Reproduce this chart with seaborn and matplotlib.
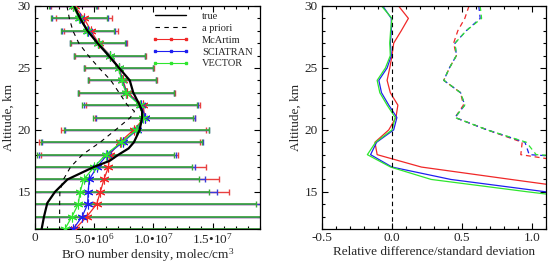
import numpy as np
import pandas as pd
import matplotlib
matplotlib.use("Agg")
import matplotlib.pyplot as plt
import seaborn as sns
from matplotlib.lines import Line2D
from matplotlib.ticker import FixedLocator, MultipleLocator

# ---------------- data ----------------
altitude = [30, 29, 28, 27, 26, 25, 24, 23, 22, 21, 20, 19, 18, 17, 16, 15, 14, 13, 12]

true_alt = [30, 29, 28, 27, 26, 25, 24, 23, 22, 21.5, 21, 20, 19, 18.5, 18, 17.5, 17, 16, 15, 14.1, 13, 12]
true_nd = [3.30e6, 3.81e6, 4.43e6, 5.28e6, 6.21e6, 7.10e6, 8.00e6, 8.30e6, 8.84e6, 9.05e6, 9.04e6,
           8.84e6, 8.35e6, 7.90e6, 7.05e6, 6.30e6, 4.95e6, 2.74e6, 1.69e6, 1.04e6, 0.76e6, 0.56e6]

apriori_alt = [30, 29, 28, 27, 26, 25, 24, 23, 22, 21.5, 21, 20, 19, 18, 17, 16, 15, 14, 13, 12]
apriori_nd = [2.70e6, 2.90e6, 3.20e6, 3.70e6, 4.50e6, 5.40e6, 6.40e6, 7.10e6, 7.80e6, 8.40e6, 8.05e6,
              6.80e6, 5.50e6, 4.00e6, 3.00e6, 2.40e6, 2.10e6, 2.08e6, 2.08e6, 2.08e6]

mcartim_nd = [3.35e6, 4.15e6, 4.72e6, 5.37e6, 6.36e6, 7.10e6, 7.43e6, 7.77e6, 9.13e6, 9.27e6,
              8.33e6, 7.15e6, 6.30e6, 6.20e6, 5.82e6, 5.52e6, 5.20e6, 4.38e6, 3.39e6]
sciatran_nd = [3.25e6, 3.80e6, 4.50e6, 5.32e6, 6.33e6, 7.08e6, 7.36e6, 7.72e6, 8.95e6, 9.32e6,
               8.62e6, 7.40e6, 6.10e6, 5.23e6, 4.58e6, 4.49e6, 4.44e6, 3.98e6, 3.22e6]
vector_nd = [3.19e6, 3.73e6, 4.43e6, 5.28e6, 6.30e6, 7.06e6, 7.31e6, 7.68e6, 8.84e6, 9.13e6,
             8.56e6, 7.29e6, 5.96e6, 5.00e6, 4.10e6, 3.81e6, 3.65e6, 3.12e6, 2.53e6]
retrieval_err = [2.0e6, 2.37e6, 2.25e6, 2.36e6, 3.0e6, 2.92e6, 2.87e6, 4.05e6, 4.83e6, 4.2e6,
                 6.1e6, 6.8e6, 5.8e6, 8.25e6, 9.75e6, 10.9e6, 15.0e6, 17.5e6, 20.0e6]

# relative difference (solid) and standard deviation (dashed), right panel
mcartim_rel = [0.047, 0.117, 0.066, 0.012, 0.0, -0.016, -0.035, -0.012, 0.042, 0.028,
               -0.023, -0.122, -0.106, 0.21, 0.85, 1.5]
sciatran_rel = [-0.066, -0.005, -0.005, -0.012, -0.005, -0.035, -0.094, -0.075, -0.023, 0.035,
                0.012, -0.11, -0.153, 0.0, 0.42, 1.1, 1.9]
vector_rel = [-0.075, 0.0, -0.01, -0.016, -0.012, -0.047, -0.106, -0.087, -0.035, 0.023,
              0.0, -0.117, -0.176, -0.01, 0.28, 0.97, 1.7]
mcartim_std = [0.55, 0.52, 0.47, 0.44, 0.46, 0.41, 0.37, 0.49, 0.51, 0.45, 0.68, 0.93, 0.92, 1.5]
sciatran_std = [0.62, 0.63, 0.53, 0.45, 0.46, 0.41, 0.37, 0.49, 0.52, 0.45, 0.68, 0.95, 0.98, 2.5]
vector_std = [0.63, 0.64, 0.53, 0.45, 0.46, 0.41, 0.37, 0.49, 0.52, 0.45, 0.68, 0.96, 1.03, 2.8]

models = ["McArtim", "SCIATRAN", "VECTOR"]
left_xticks = [0, 5e6, 1e7, 1.5e7]
left_xticklabels = ["0", "5.0\u202210$^{6}$", "1.0\u202210$^{7}$", "1.5\u202210$^{7}$"]
right_xticks = [-0.5, 0.0, 0.5, 1.0]
right_xticklabels = ["-0.5", "0.0", "0.5", "1.0"]
yticks = [15, 20, 25, 30]

# ---------------- style ----------------
sns.set_theme(style="ticks")
plt.rcParams["font.family"] = ["Liberation Serif", "DejaVu Serif"]
plt.rcParams["mathtext.fontset"] = "custom"
plt.rcParams["mathtext.rm"] = "Liberation Serif"
plt.rcParams["mathtext.default"] = "regular"

line_col = {"McArtim": "#f02828", "SCIATRAN": "#1f1ff0", "VECTOR": "#2ee62e"}
err_col = {"McArtim": "#e84040", "SCIATRAN": "#3a3ad8", "VECTOR": "#3aa83a"}
err_lw = {"McArtim": 1.0, "SCIATRAN": 1.0, "VECTOR": 1.2}
prof = {"McArtim": mcartim_nd, "SCIATRAN": sciatran_nd, "VECTOR": vector_nd}
rel = {"McArtim": mcartim_rel, "SCIATRAN": sciatran_rel, "VECTOR": vector_rel}
std = {"McArtim": mcartim_std, "SCIATRAN": sciatran_std, "VECTOR": vector_std}

W, H = 549, 265
fig = plt.figure(figsize=(W / 100, H / 100), dpi=100)
ax1 = fig.add_axes([35 / W, 1 - 229 / H, 225 / W, 223 / H])
ax2 = fig.add_axes([322 / W, 1 - 229 / H, 224 / W, 223 / H])

fs = 9.5
asterisk = (6, 2, 0)

# ---------------- left panel ----------------
for m in models:
    ax1.errorbar(prof[m], altitude, xerr=retrieval_err, fmt="none", ecolor=err_col[m],
                 elinewidth=err_lw[m], capsize=2.2, capthick=1.0, zorder=2)
for m in models:
    sns.lineplot(x=prof[m], y=altitude, sort=False, estimator=None, ax=ax1, color=line_col[m],
                 lw=0.9, marker=asterisk, markersize=7, markeredgewidth=0.8,
                 markeredgecolor=line_col[m], legend=False, zorder=3)
sns.lineplot(x=apriori_nd, y=apriori_alt, sort=False, estimator=None, ax=ax1, color="black",
             lw=0.8, legend=False, zorder=4)
ax1.lines[-1].set_linestyle((0, (4, 4)))
sns.lineplot(x=true_nd, y=true_alt, sort=False, estimator=None, ax=ax1, color="black",
             lw=1.6, legend=False, zorder=5)

ax1.set_xlim(0, 1.9e7)
ax1.set_ylim(12, 30)
ax1.xaxis.set_major_locator(FixedLocator(left_xticks))
ax1.set_xticklabels(left_xticklabels)
ax1.xaxis.set_minor_locator(MultipleLocator(1e6))
ax1.set_xlabel("BrO number density, molec/cm$^{3}$", fontsize=fs, labelpad=-0.5)
ax1.set_ylabel("Altitude, km", fontsize=fs, labelpad=2)

handles = [
    Line2D([], [], color="black", lw=1.0, label="true"),
    Line2D([], [], color="black", lw=0.8, ls=(0, (4, 4)), label="a priori"),
]
for m in models:
    handles.append(Line2D([], [], color=line_col[m], lw=0.8, marker="s", markersize=1.8,
                          label=m))
leg = ax1.legend(handles=handles, loc="upper left", bbox_to_anchor=(0.52, 0.975), frameon=False,
                 fontsize=7.5, handlelength=3.6, handletextpad=1.2, labelspacing=0.25,
                 borderpad=0, borderaxespad=0, numpoints=3)

# ---------------- right panel ----------------
for m in models:
    sns.lineplot(x=rel[m], y=altitude[:len(rel[m])], sort=False, estimator=None, ax=ax2,
                 color=line_col[m], lw=0.9, legend=False)
for m in models:
    sns.lineplot(x=std[m], y=altitude[:len(std[m])], sort=False, estimator=None, ax=ax2,
                 color=line_col[m], lw=0.9, legend=False)
    ax2.lines[-1].set_linestyle((0, (4, 3)))
ax2.axvline(0, color="black", lw=0.8, ls=(0, (4, 3)))

ax2.set_xlim(-0.5, 1.1)
ax2.set_ylim(12, 30)
ax2.xaxis.set_major_locator(FixedLocator(right_xticks))
ax2.set_xticklabels(right_xticklabels)
ax2.xaxis.set_minor_locator(MultipleLocator(0.1))
ax2.set_xlabel("Relative difference/standard deviation", fontsize=fs, labelpad=1)
ax2.set_ylabel("Altitude, km", fontsize=fs, labelpad=2)

for ax in (ax1, ax2):
    ax.yaxis.set_major_locator(FixedLocator(yticks))
    ax.yaxis.set_minor_locator(MultipleLocator(1))
    ax.tick_params(which="both", direction="in", top=True, right=True, labelsize=fs,
                   color="black", width=0.8)
    ax.tick_params(which="major", length=4.5, pad=3)
    ax.tick_params(which="minor", length=2.2)
    ax.tick_params(axis="x", which="major", pad=2.5)
    for s in ax.spines.values():
        s.set_linewidth(0.9)
        s.set_color("black")

fig.savefig("out.png", dpi=100)
